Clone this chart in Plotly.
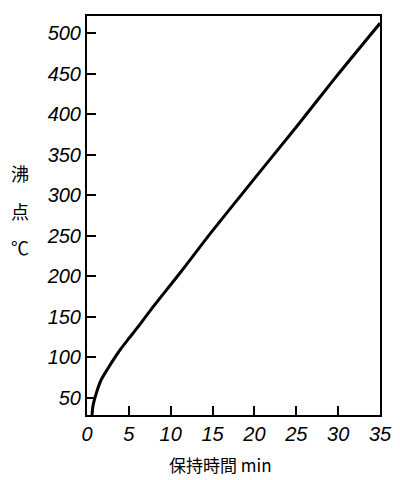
import plotly.graph_objects as go

# Boiling point vs retention time
retention_min = [0.6, 0.7, 1.1, 1.7, 2.5, 3.3, 4.1, 5.0, 6.3, 7.6, 11.2, 15.0, 20.6, 25.0, 29.6, 35.0]
boiling_c = [28, 39, 55, 72, 86, 99, 111, 123, 140, 158, 205, 256, 328, 384, 444, 512]

x_ticks = [0, 5, 10, 15, 20, 25, 30, 35]
y_ticks = [50, 100, 150, 200, 250, 300, 350, 400, 450, 500]

x_title = "保持時間 min"
y_title_chars = ["沸", "点", "℃"]

fig = go.Figure()
fig.add_trace(go.Scatter(
    x=retention_min, y=boiling_c, mode="lines",
    line=dict(color="black", width=3, shape="spline", smoothing=0.8),
    hoverinfo="skip", showlegend=False,
))

tick_font = dict(family="Liberation Sans, Arial, sans-serif", size=20, color="black", style="italic")

fig.update_xaxes(
    range=[0, 35], tickvals=x_ticks, ticks="inside", ticklen=9, tickwidth=1.5, tickcolor="black",
    showline=True, linecolor="black", linewidth=2, mirror=True, showgrid=False, zeroline=False,
    tickfont=tick_font,
)
fig.update_yaxes(
    range=[28.5, 521], tickvals=y_ticks, ticks="inside", ticklen=9, tickwidth=1.5, tickcolor="black",
    showline=True, linecolor="black", linewidth=2, mirror=True, showgrid=False, zeroline=False,
    tickfont=tick_font,
)

cjk = "Noto Sans CJK JP"
fig.add_annotation(text=x_title, xref="paper", yref="paper", x=0.457, y=-0.125,
                   xanchor="center", yanchor="middle", showarrow=False,
                   font=dict(family=cjk, size=17, color="black"))
for ch, yy in zip(y_title_chars, [0.606, 0.511, 0.421]):
    fig.add_annotation(text=ch, xref="paper", yref="paper", x=-0.229, y=yy,
                       xanchor="center", yanchor="middle", showarrow=False,
                       font=dict(family=cjk, size=18, color="black"))

# the page body adds an 8px offset, so the figure is sized to fit inside the window
fig.update_layout(
    width=392, height=472,
    margin=dict(l=79, r=20, t=6, b=65),
    plot_bgcolor="white", paper_bgcolor="white",
)
fig.write_html("out.html")
